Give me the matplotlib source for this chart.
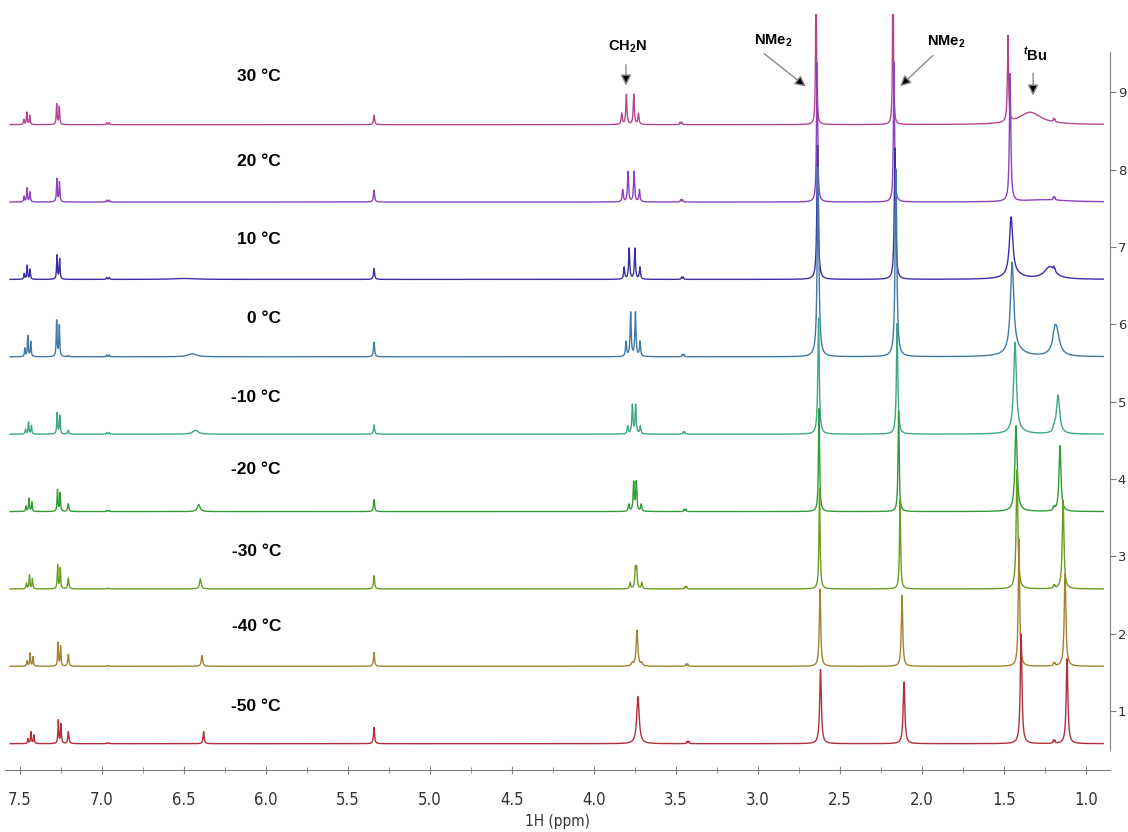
import numpy as np
import matplotlib
matplotlib.use('Agg')
import matplotlib.pyplot as plt
from matplotlib import font_manager

# variable temperature 1H NMR stack, top (30 C) to bottom (-50 C)
temps = ['30 °C', '20 °C', '10 °C', '0 °C', '-10 °C', '-20 °C', '-30 °C', '-40 °C', '-50 °C']
colors = ['#b4468e', '#9042bd', '#3a30a4', '#3f7aa8', '#3da883',
          '#2f9d33', '#6c9c22', '#a38332', '#b0303a']

# aromatic multiplet ~7.45 (mid line height) and doublet ~7.27
ar1_pos = [7.458, 7.457, 7.456, 7.452, 7.448, 7.445, 7.442, 7.438, 7.433]
ar1_h = [0.16, 0.18, 0.18, 0.27, 0.155, 0.17, 0.18, 0.17, 0.155]
ar2_pos = [7.268, 7.267, 7.266, 7.268, 7.265, 7.263, 7.262, 7.260, 7.258]
ar2_h = [0.27, 0.30, 0.31, 0.47, 0.28, 0.28, 0.31, 0.30, 0.30]
p721_h = [0.0, 0.0, 0.0, 0.015, 0.05, 0.10, 0.14, 0.155, 0.155]
p697_h = [0.025, 0.025, 0.025, 0.025, 0.02, 0.015, 0.01, 0.01, 0.01]

# broad signal near 6.4
p64_pos = [6.55, 6.52, 6.50, 6.45, 6.43, 6.41, 6.40, 6.39, 6.38]
p64_h = [0.0, 0.0, 0.012, 0.04, 0.05, 0.09, 0.13, 0.14, 0.155]
p64_w = [0.10, 0.10, 0.08, 0.03, 0.02, 0.01, 0.006, 0.005, 0.004]

# CH2Cl2
dcm_h = [0.12, 0.155, 0.14, 0.19, 0.12, 0.155, 0.17, 0.18, 0.21]

# CH2N multiplet
ch2n_pos = [3.780, 3.774, 3.768, 3.762, 3.756, 3.750, 3.744, 3.738, 3.732]
ch2n_inner = [0.045, 0.037, 0.035, 0.029, 0.020, 0.016, 0.008, 0.0, 0.0]
ch2n_outer = [0.102, 0.102, 0.096, 0.085, 0.077, 0.075, 0.071, 0.057, 0.0]
ch2n_in_h = [0.39, 0.39, 0.40, 0.57, 0.375, 0.375, 0.25, 0.233, 0.305]
ch2n_out_h = [0.14, 0.155, 0.155, 0.19, 0.10, 0.09, 0.08, 0.04, 0.0]
ch2n_w = [0.004, 0.004, 0.004, 0.004, 0.004, 0.004, 0.004, 0.006, 0.009]
p347_pos = [3.470, 3.466, 3.461, 3.456, 3.451, 3.445, 3.440, 3.434, 3.427]

# NMe2 signals
nme2a_pos = [2.646, 2.640, 2.637, 2.634, 2.631, 2.628, 2.625, 2.622, 2.619]
nme2a_h = [2.3, 1.8, 1.73, 2.45, 1.5, 1.33, 1.3, 1.0, 0.96]
nme2b_pos = [2.177, 2.171, 2.165, 2.159, 2.152, 2.143, 2.134, 2.122, 2.110]
nme2b_h = [2.3, 1.8, 1.7, 2.43, 1.43, 1.3, 1.16, 0.92, 0.80]
nme2_w = [0.003, 0.004, 0.005, 0.006, 0.005, 0.004, 0.004, 0.005, 0.006]

# sharp signal ~1.45 and tBu
pc_pos = [1.476, 1.463, 1.457, 1.451, 1.433, 1.427, 1.421, 1.409, 1.396]
pc_h = [1.12, 1.65, 0.75, 1.15, 1.16, 1.1, 1.54, 1.65, 1.42]
pc_w = [0.004, 0.005, 0.012, 0.012, 0.010, 0.008, 0.006, 0.005, 0.006]
pc_broad_h = [0.0, 0.0, 0.06, 0.08, 0.03, 0.01, 0.0, 0.0, 0.0]
tbu_pos = [1.341, 1.25, 1.220, 1.183, 1.171, 1.159, 1.140, 1.128, 1.116]
tbu_h = [0.16, 0.03, 0.16, 0.40, 0.50, 0.85, 1.15, 1.2, 1.1]
tbu_w = [0.08, 0.15, 0.04, 0.022, 0.012, 0.007, 0.006, 0.006, 0.006]
p12_h = [0.04, 0.04, 0.04, 0.05, 0.04, 0.04, 0.04, 0.04, 0.04]

offsets = np.arange(9, 0, -1) - 0.42
label_dy = [0.62, 0.52, 0.52, 0.50, 0.48, 0.54, 0.48, 0.52, 0.48]
ppm = np.linspace(7.56, 0.895, 9000)


def lor(x0, h, w):
    return h / (1 + ((ppm - x0) / w) ** 2)


def spectrum(i):
    y = np.zeros_like(ppm)
    for d, r in zip((0.018, 0.0, -0.018), (0.4, 1.0, 0.72)):
        y += lor(ar1_pos[i] + d, ar1_h[i] * r, 0.003)
    for d, r in zip((0.008, -0.008), (1.0, 0.85)):
        y += lor(ar2_pos[i] + d, ar2_h[i] * r, 0.003)
    y += lor(7.205, p721_h[i], 0.004)
    y += lor(6.97, p697_h[i], 0.003) + lor(6.955, p697_h[i], 0.003)
    y += lor(p64_pos[i], p64_h[i], p64_w[i])
    y += lor(5.341, dcm_h[i], 0.004)
    c = ch2n_pos[i]
    for s in (-1, 1):
        y += lor(c + s * ch2n_inner[i] / 2, ch2n_in_h[i], ch2n_w[i])
        y += lor(c + s * ch2n_outer[i] / 2, ch2n_out_h[i], ch2n_w[i])
    y += lor(p347_pos[i] + 0.005, 0.03, 0.003) + lor(p347_pos[i] - 0.005, 0.03, 0.003)
    y += lor(nme2a_pos[i], nme2a_h[i], nme2_w[i])
    y += lor(nme2b_pos[i], nme2b_h[i], nme2_w[i])
    y += lor(pc_pos[i], pc_h[i], pc_w[i])
    y += lor(pc_pos[i] - 0.02, pc_broad_h[i], 0.06)
    y += lor(tbu_pos[i], tbu_h[i], tbu_w[i])
    y += lor(1.198, p12_h[i], 0.003) + lor(1.19, p12_h[i] * 0.8, 0.003)
    return y + offsets[i]


names = {f.name for f in font_manager.fontManager.ttflist}
narrow = 'Liberation Sans Narrow' if 'Liberation Sans Narrow' in names else 'DejaVu Sans'
plt.rcParams['mathtext.fontset'] = 'custom'
plt.rcParams['mathtext.rm'] = 'Liberation Sans:bold'
plt.rcParams['mathtext.it'] = 'Liberation Sans:italic:bold'

fig = plt.figure(figsize=(11.28, 8.32), dpi=100)
ax = fig.add_axes([5 / 1128, 1 - 770 / 832, 1105 / 1128, 756 / 832])

for i in range(len(temps)):
    ax.plot(ppm, spectrum(i), color=colors[i], lw=1.0)
    ax.text(5.909, offsets[i] + label_dy[i], temps[i], ha='right', va='center',
            fontsize=12.5, fontweight='bold', family='Liberation Sans')

ax.set_xlim(7.591, 0.854)
ax.set_ylim(0.24, 10.01)

# peak annotations
arrow = dict(arrowstyle='-|>', ec='#8a8a8a', fc='black', lw=1.0, mutation_scale=16)
labels = [('CH$_2$N', (3.793, 9.58), (3.805, 9.39), (3.805, 9.05)),
          ('NMe$_2$', (2.909, 9.67), (2.976, 9.52), (2.695, 9.05)),
          ('NMe$_2$', (1.854, 9.65), (1.921, 9.50), (2.146, 9.05)),
          ('$^{\\it t}$Bu', (1.311, 9.49), (1.323, 9.28), (1.323, 8.92))]
for txt, pos, start, end in labels:
    ax.text(pos[0], pos[1], txt, ha='center', va='center', fontsize=10.5,
            fontweight='bold', family='Liberation Sans')
    ax.annotate('', xy=end, xytext=start, arrowprops=arrow)

for side in ('top', 'left'):
    ax.spines[side].set_visible(False)
ax.spines['bottom'].set_color('#808080')
ax.spines['right'].set_color('#808080')
ax.spines['right'].set_bounds(0.5, 9.52)

ax.yaxis.tick_right()
ax.set_yticks(range(1, 10))
ax.tick_params(axis='y', colors='#808080', labelcolor='#333333', labelsize=9.5,
               length=4, pad=1.5)
ax.set_xticks(np.arange(1.0, 7.51, 0.5))
ax.set_xticks(np.arange(1.25, 7.6, 0.5), minor=True)
ax.set_xticklabels(['%.1f' % v for v in np.arange(1.0, 7.51, 0.5)],
                   family=narrow, stretch='condensed')
ax.tick_params(axis='x', which='major', colors='#808080', labelcolor='#333333',
               labelsize=12, length=6, direction='inout', pad=12)
ax.tick_params(axis='x', which='minor', colors='#808080', length=5, direction='inout')
ax.set_xlabel('1H (ppm)', fontsize=11, family=narrow, stretch='condensed',
              color='#333333', labelpad=4)

fig.savefig('out.png', dpi=100)
